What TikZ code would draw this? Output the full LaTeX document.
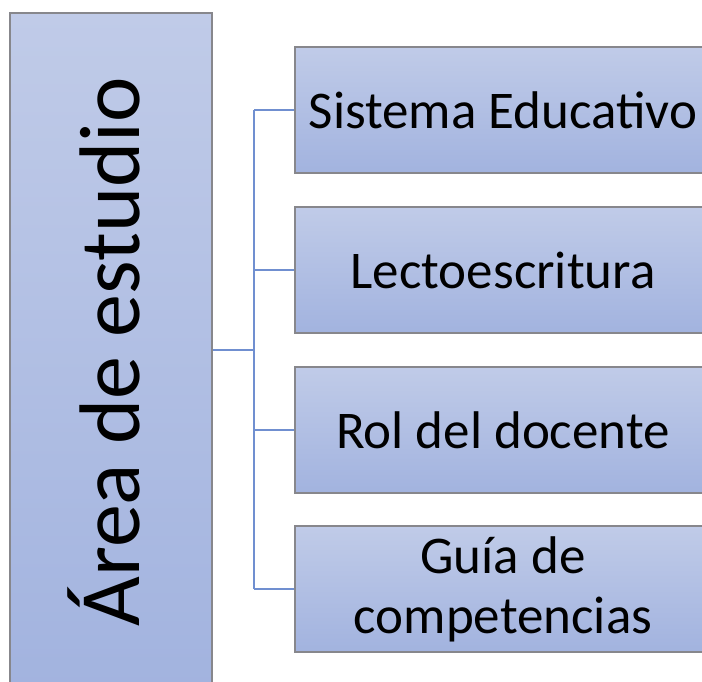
\documentclass[tikz,border=0pt]{standalone}
\usepackage{fontspec}
\setmainfont{Carlito}
\definecolor{boxtop}{RGB}{192,203,232}
\definecolor{boxbot}{RGB}{162,179,223}
\definecolor{boxline}{RGB}{135,135,140}
\definecolor{conn}{RGB}{112,143,208}
\begin{document}
\begin{tikzpicture}[x=1pt,y=-1pt,
  boxstyle/.style={rectangle,draw=boxline,line width=1.3pt,top color=boxtop,bottom color=boxbot,inner sep=0pt},
  rbox/.style={boxstyle,minimum width=416pt,minimum height=126pt,font=\fontsize{53}{60}\selectfont,align=center},
  connstyle/.style={draw=conn,line width=2.7pt}]
\useasboundingbox (0,0) rectangle (702,681);
\clip (0,0) rectangle (702,681);
\node[boxstyle,minimum width=202pt,minimum height=678pt] (L) at (111,352) {};
\node[rotate=90,font=\fontsize{86}{90}\selectfont,inner sep=0pt] (Lt) at (104,352) {Área de estudio};
\node[rbox] (b1) at (503,110) {Sistema Educativo};
\node[rbox] (b2) at (503,270) {Lectoescritura};
\node[rbox] (b3) at (503,430) {Rol del docente};
\node[rbox] (b4) at (503,589) {Guía de\\competencias};
\coordinate (j) at (254,350);
\draw[connstyle] (L.east |- j) -- (j);
\draw[connstyle] (j |- b1) -- (j |- b4);
\foreach \b in {b1,b2,b3,b4} \draw[connstyle] (j |- \b) -- (\b.west);
\end{tikzpicture}
\end{document}
